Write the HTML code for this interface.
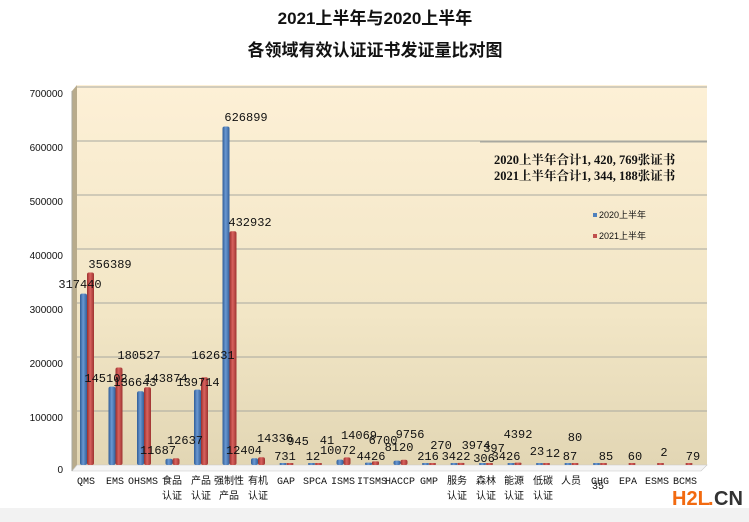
<!DOCTYPE html>
<html><head><meta charset="utf-8"><style>
body{margin:0;background:#fff;}
svg{display:block;font-family:"Liberation Sans","Noto Sans CJK SC",sans-serif;}
.d{font-family:"Liberation Mono","Noto Sans CJK SC",monospace;font-size:12px;fill:#111;text-anchor:middle;}
.c{font-family:"Liberation Mono","Noto Sans CJK SC",monospace;font-size:10px;fill:#111;text-anchor:middle;}
</style></head><body>
<svg width="749" height="522" viewBox="0 0 749 522">
<defs>
<linearGradient id="bg" x1="0" y1="0" x2="0" y2="1"><stop offset="0" stop-color="#fdf0d6"/><stop offset="0.6" stop-color="#f2e6c6"/><stop offset="1" stop-color="#e2d6b4"/></linearGradient>
<linearGradient id="bl" x1="0" x2="1"><stop offset="0" stop-color="#2f5c96"/><stop offset="0.45" stop-color="#6a98d2"/><stop offset="1" stop-color="#33609a"/></linearGradient>
<linearGradient id="rd" x1="0" x2="1"><stop offset="0" stop-color="#9a2f2c"/><stop offset="0.45" stop-color="#d8625e"/><stop offset="1" stop-color="#9e3330"/></linearGradient>
</defs>
<rect x="0" y="508" width="749" height="14" fill="#f2f2f2"/>
<text x="375" y="24" text-anchor="middle" font-size="17" font-weight="bold" fill="#111">2021上半年与2020上半年</text>
<text x="375" y="56" text-anchor="middle" font-size="17" font-weight="bold" fill="#111">各领域有效认证证书发证量比对图</text>
<polygon points="72,91 77,85 77,465 72,471" fill="#b8ab8c"/>
<rect x="77" y="85" width="630" height="380" fill="url(#bg)"/>
<polygon points="72,471 77,465 707,465 701,471" fill="#f4f4f4" stroke="#c8c8c8" stroke-width="0.6"/>
<g stroke="#a8a8a0" stroke-width="1">
<line x1="77" y1="411" x2="707" y2="411"/><line x1="77" y1="357" x2="707" y2="357"/><line x1="77" y1="303" x2="707" y2="303"/><line x1="77" y1="249" x2="707" y2="249"/><line x1="77" y1="195" x2="707" y2="195"/><line x1="77" y1="141" x2="707" y2="141"/><line x1="77" y1="87" x2="707" y2="87"/>
<line x1="72" y1="91" x2="72" y2="471"/>
</g>
<g font-size="10" fill="#111" text-anchor="end">
<text x="63" y="97">700000</text><text x="63" y="151">600000</text><text x="63" y="205">500000</text><text x="63" y="259">400000</text><text x="63" y="313">300000</text><text x="63" y="367">200000</text><text x="63" y="421">100000</text><text x="63" y="473">0</text>
</g>
<g fill="url(#bl)">
<rect x="80" y="293.6" width="7" height="171.4" rx="2"/>
<rect x="108.5" y="386.6" width="7" height="78.4" rx="2"/>
<rect x="137" y="391.2" width="7" height="73.8" rx="2"/>
<rect x="165.5" y="458.7" width="7" height="6.3" rx="2"/>
<rect x="194" y="389.6" width="7" height="75.4" rx="2"/>
<rect x="222.5" y="126.5" width="7" height="338.5" rx="2"/>
<rect x="251" y="458.3" width="7" height="6.7" rx="2"/>
<rect x="279.5" y="463" width="7" height="2" rx="1"/>
<rect x="308" y="463" width="7" height="2" rx="1"/>
<rect x="336.5" y="459.6" width="7" height="5.4" rx="2"/>
<rect x="365" y="462.6" width="7" height="2.4" rx="1"/>
<rect x="393.5" y="460.6" width="7" height="4.4" rx="2"/>
<rect x="422" y="463" width="7" height="2" rx="1"/>
<rect x="450.5" y="463" width="7" height="2" rx="1"/>
<rect x="479" y="463" width="7" height="2" rx="1"/>
<rect x="507.5" y="463" width="7" height="2" rx="1"/>
<rect x="536" y="463" width="7" height="2" rx="1"/>
<rect x="564.5" y="463" width="7" height="2" rx="1"/>
<rect x="593" y="463" width="7" height="2" rx="1"/>
</g>
<g fill="url(#rd)">
<rect x="87" y="272.5" width="7" height="192.5" rx="2"/>
<rect x="115.5" y="367.5" width="7" height="97.5" rx="2"/>
<rect x="144" y="387.3" width="7" height="77.7" rx="2"/>
<rect x="172.5" y="458.2" width="7" height="6.8" rx="2"/>
<rect x="201" y="377.2" width="7" height="87.8" rx="2"/>
<rect x="229.5" y="231.2" width="7" height="233.8" rx="2"/>
<rect x="258" y="457.3" width="7" height="7.7" rx="2"/>
<rect x="286.5" y="463" width="7" height="2" rx="1"/>
<rect x="315" y="463" width="7" height="2" rx="1"/>
<rect x="343.5" y="457.4" width="7" height="7.6" rx="2"/>
<rect x="372" y="461.4" width="7" height="3.6" rx="1"/>
<rect x="400.5" y="459.7" width="7" height="5.3" rx="2"/>
<rect x="429" y="463" width="7" height="2" rx="1"/>
<rect x="457.5" y="462.9" width="7" height="2.1" rx="1"/>
<rect x="486" y="463" width="7" height="2" rx="1"/>
<rect x="514.5" y="462.6" width="7" height="2.4" rx="1"/>
<rect x="543" y="463" width="7" height="2" rx="1"/>
<rect x="571.5" y="463" width="7" height="2" rx="1"/>
<rect x="600" y="463" width="7" height="2" rx="1"/>
<rect x="628.5" y="463" width="7" height="2" rx="1"/>
<rect x="657" y="463" width="7" height="2" rx="1"/>
<rect x="685.5" y="463" width="7" height="2" rx="1"/>
</g>
<g class="d">
<text x="80" y="288">317440</text><text x="110" y="268">356389</text>
<text x="106" y="382">145102</text><text x="139" y="359">180527</text>
<text x="135" y="386">136643</text><text x="166" y="382">143874</text>
<text x="158" y="454">11687</text><text x="185" y="444">12637</text>
<text x="198" y="386">139714</text><text x="213" y="359">162631</text>
<text x="246" y="121">626899</text><text x="250" y="226">432932</text>
<text x="244" y="454">12404</text><text x="275" y="442">14336</text>
<text x="285" y="460">731</text><text x="298" y="445">945</text>
<text x="313" y="460">12</text><text x="327" y="444">41</text>
<text x="338" y="454">10072</text><text x="359" y="439">14069</text>
<text x="371" y="460">4426</text><text x="383" y="444">6700</text>
<text x="399" y="451">8120</text><text x="410" y="438">9756</text>
<text x="428" y="460">216</text><text x="441" y="449">270</text>
<text x="456" y="460">3422</text><text x="476" y="449">3974</text>
<text x="484" y="462">306</text><text x="494" y="452">397</text>
<text x="506" y="460">3426</text><text x="518" y="438">4392</text>
<text x="537" y="455">23</text><text x="553" y="457">12</text>
<text x="570" y="460">87</text><text x="575" y="441">80</text>
<text x="606" y="460">85</text><text x="635" y="460">60</text><text x="664" y="456">2</text><text x="693" y="460">79</text>
</g>
<g class="c">
<text x="86" y="484">QMS</text><text x="115" y="484">EMS</text><text x="143" y="484">OHSMS</text>
<text x="172" y="484">食品</text><text x="172" y="499">认证</text>
<text x="201" y="484">产品</text><text x="201" y="499">认证</text>
<text x="229" y="484">强制性</text><text x="229" y="499">产品</text>
<text x="258" y="484">有机</text><text x="258" y="499">认证</text>
<text x="286" y="484">GAP</text><text x="315" y="484">SPCA</text><text x="343" y="484">ISMS</text><text x="372" y="484">ITSMS</text><text x="400" y="484">HACCP</text><text x="429" y="484">GMP</text>
<text x="457" y="484">服务</text><text x="457" y="499">认证</text>
<text x="486" y="484">森林</text><text x="486" y="499">认证</text>
<text x="514" y="484">能源</text><text x="514" y="499">认证</text>
<text x="543" y="484">低碳</text><text x="543" y="499">认证</text>
<text x="571" y="484">人员</text><text x="600" y="484">GHG</text><text x="598" y="489">35</text>
<text x="628" y="484">EPA</text><text x="657" y="484">ESMS</text><text x="685" y="484">BCMS</text>
</g>
<line x1="480" y1="142" x2="707" y2="142" stroke="#a8a8a0"/>
<text x="494" y="164" font-family="Liberation Serif,Noto Serif CJK SC,serif" font-size="12.5" font-weight="bold" fill="#111">2020上半年合计1, 420, 769张证书</text>
<text x="494" y="180" font-family="Liberation Serif,Noto Serif CJK SC,serif" font-size="12.5" font-weight="bold" fill="#111">2021上半年合计1, 344, 188张证书</text>
<rect x="593" y="213" width="4" height="4" fill="#4f81bd"/><text x="599" y="218" font-size="9" fill="#111">2020上半年</text>
<rect x="593" y="234" width="4" height="4" fill="#c0504d"/><text x="599" y="239" font-size="9" fill="#111">2021上半年</text>
<text x="672" y="505" font-size="20" font-weight="bold" fill="#f26a10">H2L</text><text x="708" y="505" font-size="20" font-weight="bold" fill="#f26a10">.</text><text x="714" y="505" font-size="20" font-weight="bold" fill="#333">CN</text>
</svg>
</body></html>
